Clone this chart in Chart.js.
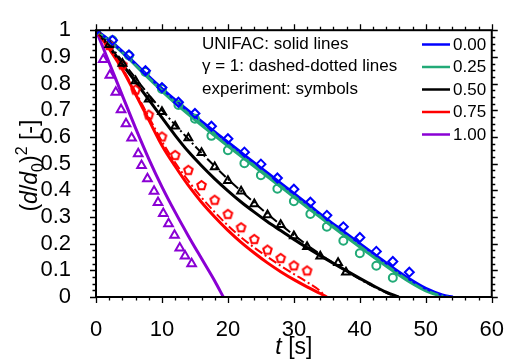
<!DOCTYPE html>
<html>
<head>
<meta charset="utf-8">
<script src="https://cdn.jsdelivr.net/npm/chart.js@4/dist/chart.umd.min.js"></script>
<style>
  html, body { margin: 0; padding: 0; background: #fff; }
  #wrap { width: 516px; height: 362px; }
</style>
</head>
<body>
<div id="wrap"><canvas id="c" width="516" height="362"></canvas></div>
<script>
// ---- data -------------------------------------------------------------
const mixLabels = ['0.00', '0.25', '0.50', '0.75', '1.00'];
const mixColors = ['#0000ff', '#22aa77', '#000000', '#ff0000', '#8a00d4'];

// UNIFAC model curves (solid)
const tBlue  = [0, 2.5, 5, 7.5, 10, 12.5, 15, 17.5, 20, 22.5, 25, 27.5, 30, 32.5, 35, 37.5, 40, 42.5, 45, 47.5, 50, 52.5, 54.1];
const vBlue  = [1, 0.953, 0.897, 0.838, 0.781, 0.728, 0.678, 0.629, 0.58, 0.532, 0.484, 0.436, 0.388, 0.34, 0.292, 0.246, 0.2, 0.155, 0.11, 0.068, 0.032, 0.008, 0];
const tGreen = [0, 2.5, 5, 7.5, 10, 12.5, 15, 17.5, 20, 22.5, 25, 27.5, 30, 32.5, 35, 37.5, 40, 42.5, 45, 47.5, 50, 52.5, 53.3];
const vGreen = [1, 0.95, 0.892, 0.831, 0.772, 0.716, 0.664, 0.614, 0.566, 0.518, 0.47, 0.422, 0.375, 0.327, 0.28, 0.233, 0.187, 0.142, 0.098, 0.057, 0.023, 0.003, 0];
const tBlack = [0, 2, 4, 6, 8, 10, 12, 14, 16, 18, 20, 22, 24, 26, 28, 30, 32, 34, 36, 38, 40, 42, 44, 45.9];
const vBlack = [1, 0.938, 0.872, 0.806, 0.74, 0.672, 0.606, 0.545, 0.492, 0.443, 0.398, 0.356, 0.318, 0.282, 0.249, 0.216, 0.185, 0.155, 0.126, 0.098, 0.07, 0.043, 0.018, 0];
const tRed   = [0, 2, 4, 6, 8, 10, 12, 14, 16, 18, 20, 22, 24, 26, 28, 30, 32, 34, 35];
const vRed   = [1, 0.93, 0.853, 0.76, 0.664, 0.568, 0.49, 0.418, 0.355, 0.3, 0.25, 0.205, 0.165, 0.128, 0.095, 0.065, 0.038, 0.013, 0];
const tPurple = [0, 2, 4, 6, 8, 10, 12, 14, 16, 18, 19.3];
const vPurple = [1, 0.878, 0.755, 0.633, 0.518, 0.413, 0.318, 0.229, 0.144, 0.06, 0];

// ideal-solution (gamma = 1) curves (dash-dotted)
const tGreenId = [0, 2.5, 5, 7.5, 10, 12.5, 15, 17.5, 20, 22.5, 25, 27.5, 30, 32.5, 35, 37.5, 40, 42.5, 45, 47.5, 50, 52.5, 53.5];
const vGreenId = [1, 0.951, 0.894, 0.834, 0.776, 0.72, 0.669, 0.619, 0.571, 0.523, 0.475, 0.427, 0.38, 0.332, 0.285, 0.238, 0.192, 0.147, 0.103, 0.061, 0.026, 0.005, 0];
const tBlackId = [0, 2, 4, 6, 8, 10, 12, 14, 16, 18, 20, 22, 24, 26, 28, 30, 32, 34, 36, 38, 40, 42, 44, 45.6];
const vBlackId = [1, 0.945, 0.884, 0.82, 0.758, 0.7, 0.645, 0.592, 0.54, 0.49, 0.442, 0.397, 0.353, 0.311, 0.271, 0.232, 0.195, 0.16, 0.127, 0.096, 0.067, 0.04, 0.016, 0];
const tRedId = [0, 2, 4, 6, 8, 10, 12, 14, 16, 18, 20, 22, 24, 26, 28, 30, 32, 34, 34.8];
const vRedId = [1, 0.932, 0.858, 0.768, 0.675, 0.583, 0.504, 0.435, 0.373, 0.318, 0.268, 0.224, 0.185, 0.15, 0.117, 0.086, 0.056, 0.022, 0];

// measurements (symbols)
const tExpBlue  = [0, 2.5, 5, 7.5, 10, 12.5, 15, 17.5, 20, 22.5, 25, 27.5, 30, 32.5, 35, 37.5, 40, 42.5, 45, 47.5];
const vExpBlue  = [1, 0.962, 0.907, 0.848, 0.785, 0.73, 0.688, 0.64, 0.593, 0.543, 0.498, 0.446, 0.404, 0.355, 0.306, 0.263, 0.223, 0.171, 0.133, 0.093];
const tExpGreen = [0, 2.5, 5, 7.5, 10, 12.5, 15, 17.5, 20, 22.5, 25, 27.5, 30, 32.5, 35, 37.5, 40, 42.5, 45];
const vExpGreen = [1, 0.962, 0.905, 0.843, 0.78, 0.72, 0.668, 0.604, 0.55, 0.501, 0.456, 0.406, 0.359, 0.311, 0.263, 0.211, 0.164, 0.117, 0.072];
const tExpBlack = [0, 2, 4, 6, 8, 10, 12, 14, 16, 18, 20, 22, 24, 26, 28, 30, 32, 34, 36.7, 37.9];
const vExpBlack = [1, 0.945, 0.875, 0.81, 0.741, 0.694, 0.64, 0.596, 0.541, 0.487, 0.436, 0.396, 0.349, 0.307, 0.271, 0.229, 0.188, 0.153, 0.128, 0.093];
const tExpRed   = [0, 2, 4, 6, 8, 10, 12, 14, 16, 18, 20, 22, 24, 26, 28, 30, 32];
const vExpRed   = [1, 0.943, 0.87, 0.776, 0.682, 0.6, 0.531, 0.475, 0.418, 0.363, 0.31, 0.26, 0.216, 0.176, 0.145, 0.117, 0.098];
const tExpPurple = [0, 1.1, 2.1, 3.0, 3.8, 4.55, 5.4, 6.4, 6.9, 7.8, 8.8, 9.4, 10.2, 11.0, 11.9, 12.7, 13.5, 14.5];
const vExpPurple = [1, 0.89, 0.831, 0.767, 0.702, 0.649, 0.596, 0.537, 0.493, 0.443, 0.396, 0.354, 0.313, 0.275, 0.231, 0.184, 0.154, 0.125];

// axis ticks
const xTicks = [0, 10, 20, 30, 40, 50, 60];
const yTicks = [0, 0.1, 0.2, 0.3, 0.4, 0.5, 0.6, 0.7, 0.8, 0.9, 1];
const xMinorStep = 2;
const yMinorStep = 0.025;

// ---- helpers ----------------------------------------------------------
const FONT = '"Liberation Sans", Arial, Helvetica, sans-serif';
const pts = (ts, vs) => ts.map((t, i) => ({ x: t, y: vs[i] }));

function pentagonSprite(color, r, lw) {
  const s = Math.ceil(2 * r + lw + 2);
  const cv = document.createElement('canvas');
  cv.width = s; cv.height = s;
  const g = cv.getContext('2d');
  g.strokeStyle = color; g.lineWidth = lw;
  g.beginPath();
  for (let k = 0; k < 5; k++) {
    const a = -Math.PI / 2 + k * 2 * Math.PI / 5;
    const px = s / 2 + r * Math.cos(a), py = s / 2 + r * Math.sin(a);
    k ? g.lineTo(px, py) : g.moveTo(px, py);
  }
  g.closePath(); g.stroke();
  return cv;
}

function markerSet(ts, vs, color, style, radius, extra) {
  return Object.assign({
    data: pts(ts, vs), showLine: false, borderColor: color,
    backgroundColor: 'rgba(0,0,0,0)', pointStyle: style, pointRadius: radius,
    pointBorderWidth: 2, pointHoverRadius: radius
  }, extra || {});
}
function curveSet(ts, vs, color, dashed) {
  return {
    data: pts(ts, vs), showLine: true, borderColor: color, backgroundColor: color,
    borderWidth: dashed ? 2 : 3, borderDash: dashed ? [9, 3, 2, 3] : [],
    pointRadius: 0, cubicInterpolationMode: 'monotone'
  };
}

const datasets = [
  markerSet(tExpBlue, vExpBlue, mixColors[0], 'rectRot', 4.5),
  markerSet(tExpGreen, vExpGreen, mixColors[1], 'circle', 4),
  markerSet(tExpBlack, vExpBlack, mixColors[2], 'triangle', 4.5),
  markerSet(tExpRed, vExpRed, mixColors[3], pentagonSprite(mixColors[3], 4.5, 2), 5),
  markerSet(tExpPurple, vExpPurple, mixColors[4], 'triangle', 5),
  curveSet(tGreenId, vGreenId, mixColors[1], true),
  curveSet(tBlackId, vBlackId, mixColors[2], true),
  curveSet(tRedId, vRedId, mixColors[3], true),
  curveSet(tBlue, vBlue, mixColors[0], false),
  curveSet(tGreen, vGreen, mixColors[1], false),
  curveSet(tBlack, vBlack, mixColors[2], false),
  curveSet(tRed, vRed, mixColors[3], false),
  curveSet(tPurple, vPurple, mixColors[4], false)
];

// ---- frame, ticks, titles and key --------------------------------------
function drawRich(ctx, parts, size) {
  // parts: [text, italic, kind] where kind is '', 'sub' or 'sup'
  let w = 0;
  const m = parts.map(([txt, it, kind]) => {
    const fs = kind ? Math.round(size * 0.7) : size;
    ctx.font = (it ? 'italic ' : '') + fs + 'px ' + FONT;
    const wd = ctx.measureText(txt).width;
    w += wd;
    return { txt, font: ctx.font, wd, dy: kind === 'sub' ? size * 0.25 : kind === 'sup' ? -size * 0.45 : 0 };
  });
  let x = -w / 2;
  m.forEach(p => { ctx.font = p.font; ctx.fillText(p.txt, x, p.dy); x += p.wd; });
}

const framePlugin = {
  id: 'frame',
  afterDraw(chart) {
    const { ctx, chartArea: a, scales: { x, y } } = chart;
    ctx.save();
    ctx.strokeStyle = '#000'; ctx.fillStyle = '#000';
    // ticks on all four sides, pointing outward
    ctx.lineWidth = 1.3;
    ctx.beginPath();
    for (let i = 0; i <= 30; i++) {
      const v = i * xMinorStep;
      const px = Math.round(x.getPixelForValue(v)) + 0.5;
      const len = i % 5 === 0 ? 6 : 3.5;
      ctx.moveTo(px, a.bottom); ctx.lineTo(px, a.bottom + len);
      ctx.moveTo(px, a.top); ctx.lineTo(px, a.top - len);
    }
    for (let i = 0; i <= 40; i++) {
      const v = i * yMinorStep;
      const py = Math.round(y.getPixelForValue(v)) + 0.5;
      const len = i % 4 === 0 ? 6 : 3.5;
      ctx.moveTo(a.left, py); ctx.lineTo(a.left - len, py);
      ctx.moveTo(a.right, py); ctx.lineTo(a.right + len, py);
    }
    ctx.stroke();
    // box
    ctx.lineWidth = 2;
    ctx.strokeRect(a.left, a.top, a.right - a.left, a.bottom - a.top);

    // axis titles
    ctx.textBaseline = 'alphabetic';
    ctx.save();
    ctx.translate(a.left + (a.right - a.left) / 2, 354);
    drawRich(ctx, [['t', true, ''], [' [s]', false, '']], 23);
    ctx.restore();
    ctx.save();
    ctx.translate(37, (a.top + a.bottom) / 2 + 2);
    ctx.rotate(-Math.PI / 2);
    drawRich(ctx, [['(', false, ''], ['d', true, ''], ['/', false, ''], ['d', true, ''],
                   ['0', false, 'sub'], [')', false, ''], ['2', false, 'sup'], [' [-]', false, '']], 23);
    ctx.restore();

    // annotation block
    ctx.font = '17px ' + FONT;
    ctx.textBaseline = 'middle';
    ctx.textAlign = 'left';
    ['UNIFAC: solid lines', 'γ = 1: dashed-dotted lines', 'experiment: symbols']
      .forEach((s, i) => ctx.fillText(s, 202, 44 + i * 22.6));

    // key
    mixLabels.forEach((lab, i) => {
      const yy = 44.5 + i * 22.5;
      ctx.strokeStyle = mixColors[i]; ctx.lineWidth = 2.5;
      ctx.beginPath(); ctx.moveTo(422, yy); ctx.lineTo(450, yy); ctx.stroke();
      ctx.fillStyle = '#000';
      ctx.fillText(lab, 453, yy + 0.5);
    });
    ctx.restore();
  }
};

// ---- chart -------------------------------------------------------------
new Chart(document.getElementById('c'), {
  type: 'scatter',
  data: { datasets },
  options: {
    responsive: false, animation: false, events: [],
    layout: { padding: { left: 0, top: 14, right: 16, bottom: 0 } },
    plugins: { legend: { display: false }, tooltip: { enabled: false } },
    elements: { line: { borderJoinStyle: 'round' } },
    scales: {
      x: {
        type: 'linear', min: 0, max: 60,
        afterBuildTicks: s => { s.ticks = xTicks.map(v => ({ value: v })); },
        afterFit: s => { s.height = 65; },
        grid: { display: false }, border: { display: false },
        ticks: { color: '#000', font: { family: FONT, size: 22 }, padding: 12, maxRotation: 0, autoSkip: false }
      },
      y: {
        type: 'linear', min: 0, max: 1,
        afterBuildTicks: s => { s.ticks = yTicks.map(v => ({ value: v })); },
        afterFit: s => { s.width = 96; },
        grid: { display: false }, border: { display: false },
        ticks: { color: '#000', font: { family: FONT, size: 22 }, padding: 17, autoSkip: false,
                 callback: v => String(Math.round(v * 10) / 10) }
      }
    }
  },
  plugins: [framePlugin]
});
</script>
</body>
</html>
